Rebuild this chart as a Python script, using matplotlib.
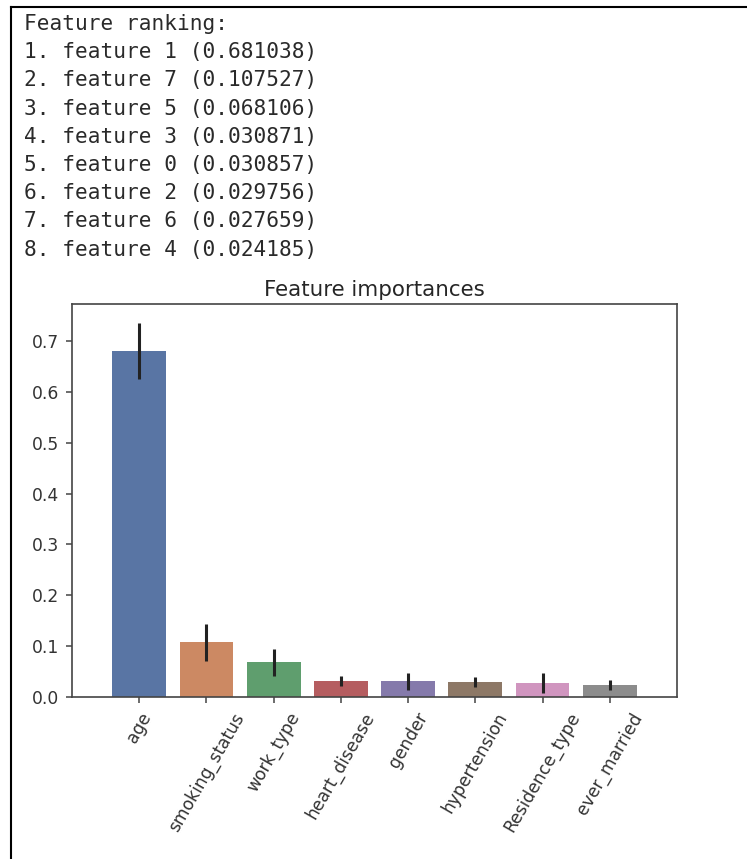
import numpy as np
import matplotlib
matplotlib.use("Agg")
import matplotlib.pyplot as plt
from matplotlib.lines import Line2D
import seaborn as sns

# ranking printed above the plot
feature_idx = [1, 7, 5, 3, 0, 2, 6, 4]
feature_names = ["age", "smoking_status", "work_type", "heart_disease",
                 "gender", "hypertension", "Residence_type", "ever_married"]
importances = [0.681038, 0.107527, 0.068106, 0.030871,
               0.030857, 0.029756, 0.027659, 0.024185]
std = [0.055, 0.036, 0.026, 0.010, 0.017, 0.010, 0.019, 0.010]

W, H = 747, 859
fig = plt.figure(figsize=(W / 100, H / 100), dpi=100)

# notebook cell frame (left and top edges)
fig.add_artist(Line2D([11 / W, 11 / W], [0, 1 - 7 / H], color="black", lw=1.5))
fig.add_artist(Line2D([11 / W, 1], [1 - 7 / H, 1 - 7 / H], color="black", lw=1.5))

# printed output
lines = ["Feature ranking:"]
for i in range(len(feature_idx)):
    lines.append("%d. feature %d (%f)" % (i + 1, feature_idx[i], importances[i]))
for i, s in enumerate(lines):
    y = 30 + 28.2 * i
    fig.text(24 / W, 1 - y / H, s, family="DejaVu Sans Mono", fontsize=15.2,
             color="#2a2a2a", va="baseline", ha="left")

# bar chart
ax = fig.add_axes([72 / W, 1 - 697 / H, 605 / W, 393 / H])
colors = [sns.desaturate(c, 0.75) for c in sns.color_palette("deep", 8)]
x = np.arange(len(importances))
ax.bar(x, importances, width=0.8, color=colors, yerr=std, align="center",
       error_kw=dict(ecolor="#222222", elinewidth=2.2, capsize=0))
ax.set_xlim([-1, len(importances)])
ax.set_xticks(x)
ax.set_xticklabels(feature_names, rotation=60)
ax.set_title("Feature importances", fontsize=15.4, color="#262626", pad=6)

for sp in ax.spines.values():
    sp.set_color("#444444")
    sp.set_linewidth(1.2)
ax.tick_params(labelsize=12.3, colors="#444444", labelcolor="#333333",
               length=4.5, width=1.1, pad=4.5)

fig.savefig("out.png", dpi=100, facecolor="white")
